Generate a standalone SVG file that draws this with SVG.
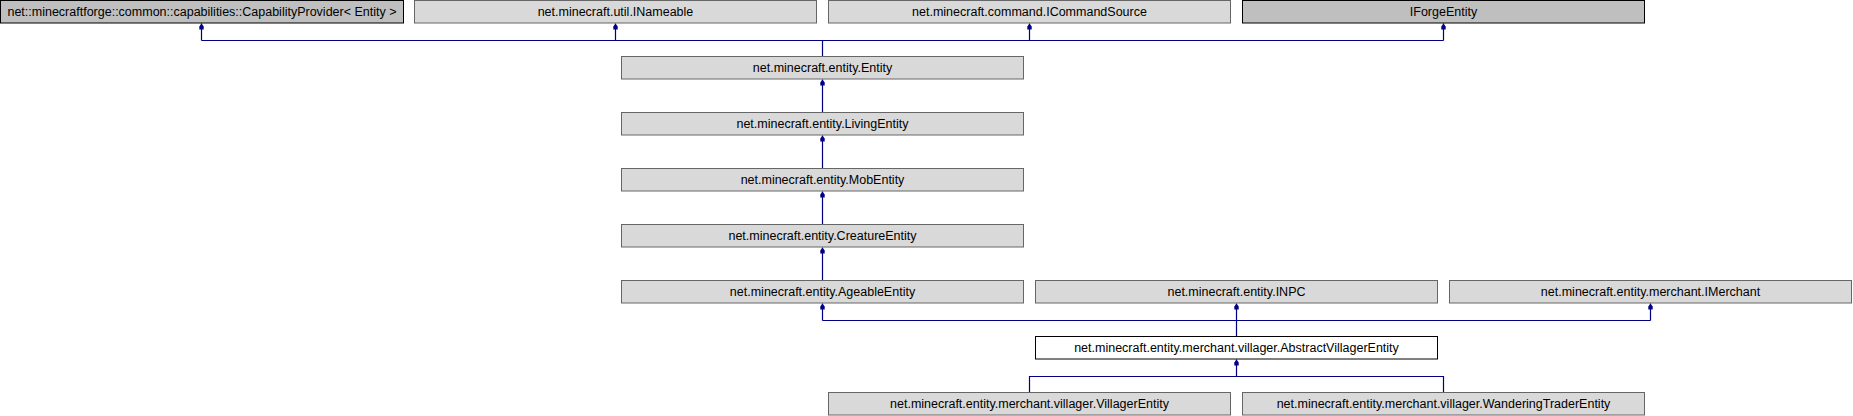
<svg xmlns="http://www.w3.org/2000/svg" width="1853" height="416" viewBox="0 0 1853 416">
<defs>
<style>
.n rect{fill:#d9d9d9;stroke:#666666;stroke-width:1}
.u rect{fill:#bfbfbf;stroke:#000000;stroke-width:1}
.c rect{fill:#ffffff;stroke:#000000;stroke-width:1}
text{font-family:"Liberation Sans",Arial,sans-serif;font-size:12.5px;fill:#000;text-anchor:middle}
.e line,.e polyline{stroke:#000080;stroke-width:1.2;fill:none}
</style>
<marker id="ah" markerWidth="7" markerHeight="7" refX="6" refY="3.5" orient="auto" markerUnits="userSpaceOnUse" viewBox="0 0 7 7">
<path d="M0,1.3 L3,1.3 L6,3.5 L3,5.7 L0,5.7 Z" fill="#000080"/>
</marker>
</defs>
<rect width="1853" height="416" fill="#ffffff"/>
<g class="e" id="connectors">
<polyline points="201.5,40.5 1443.5,40.5"/>
<line x1="822.5" y1="56" x2="822.5" y2="40.5"/>
<line x1="201.5" y1="40.5" x2="201.5" y2="23.5" marker-end="url(#ah)"/>
<line x1="615.5" y1="40.5" x2="615.5" y2="23.5" marker-end="url(#ah)"/>
<line x1="1029.5" y1="40.5" x2="1029.5" y2="23.5" marker-end="url(#ah)"/>
<line x1="1443.5" y1="40.5" x2="1443.5" y2="23.5" marker-end="url(#ah)"/>
<line x1="822.5" y1="112" x2="822.5" y2="79.5" marker-end="url(#ah)"/>
<line x1="822.5" y1="168" x2="822.5" y2="135.5" marker-end="url(#ah)"/>
<line x1="822.5" y1="224" x2="822.5" y2="191.5" marker-end="url(#ah)"/>
<line x1="822.5" y1="280" x2="822.5" y2="247.5" marker-end="url(#ah)"/>
<polyline points="822.5,320.5 1650.5,320.5"/>
<line x1="1236.5" y1="336" x2="1236.5" y2="320.5"/>
<line x1="822.5" y1="320.5" x2="822.5" y2="303.5" marker-end="url(#ah)"/>
<line x1="1236.5" y1="320.5" x2="1236.5" y2="303.5" marker-end="url(#ah)"/>
<line x1="1650.5" y1="320.5" x2="1650.5" y2="303.5" marker-end="url(#ah)"/>
<polyline points="1029.5,392 1029.5,376.5 1443.5,376.5 1443.5,392"/>
<line x1="1236.5" y1="376.5" x2="1236.5" y2="359.5" marker-end="url(#ah)"/>
</g>
<g id="capabilityprovider" class="u"><rect x="0.5" y="0.5" width="403" height="22.5"/><text x="202" y="16">net::minecraftforge::common::capabilities::CapabilityProvider&lt; Entity &gt;</text></g>
<g id="inameable" class="n"><rect x="414.5" y="0.5" width="402" height="22.5"/><text x="615.5" y="16">net.minecraft.util.INameable</text></g>
<g id="icommandsource" class="n"><rect x="828.5" y="0.5" width="402" height="22.5"/><text x="1029.5" y="16">net.minecraft.command.ICommandSource</text></g>
<g id="iforgeentity" class="u"><rect x="1242.5" y="0.5" width="402" height="22.5"/><text x="1443.5" y="16">IForgeEntity</text></g>
<g id="entity" class="n"><rect x="621.5" y="56.5" width="402" height="22.5"/><text x="822.5" y="72">net.minecraft.entity.Entity</text></g>
<g id="livingentity" class="n"><rect x="621.5" y="112.5" width="402" height="22.5"/><text x="822.5" y="128">net.minecraft.entity.LivingEntity</text></g>
<g id="mobentity" class="n"><rect x="621.5" y="168.5" width="402" height="22.5"/><text x="822.5" y="184">net.minecraft.entity.MobEntity</text></g>
<g id="creatureentity" class="n"><rect x="621.5" y="224.5" width="402" height="22.5"/><text x="822.5" y="240">net.minecraft.entity.CreatureEntity</text></g>
<g id="ageableentity" class="n"><rect x="621.5" y="280.5" width="402" height="22.5"/><text x="822.5" y="296">net.minecraft.entity.AgeableEntity</text></g>
<g id="inpc" class="n"><rect x="1035.5" y="280.5" width="402" height="22.5"/><text x="1236.5" y="296">net.minecraft.entity.INPC</text></g>
<g id="imerchant" class="n"><rect x="1449.5" y="280.5" width="402" height="22.5"/><text x="1650.5" y="296">net.minecraft.entity.merchant.IMerchant</text></g>
<g id="abstractvillagerentity" class="c"><rect x="1035.5" y="336.5" width="402" height="22.5"/><text x="1236.5" y="352">net.minecraft.entity.merchant.villager.AbstractVillagerEntity</text></g>
<g id="villagerentity" class="n"><rect x="828.5" y="392.5" width="402" height="22.5"/><text x="1029.5" y="408">net.minecraft.entity.merchant.villager.VillagerEntity</text></g>
<g id="wanderingtraderentity" class="n"><rect x="1242.5" y="392.5" width="402" height="22.5"/><text x="1443.5" y="408">net.minecraft.entity.merchant.villager.WanderingTraderEntity</text></g>
</svg>
